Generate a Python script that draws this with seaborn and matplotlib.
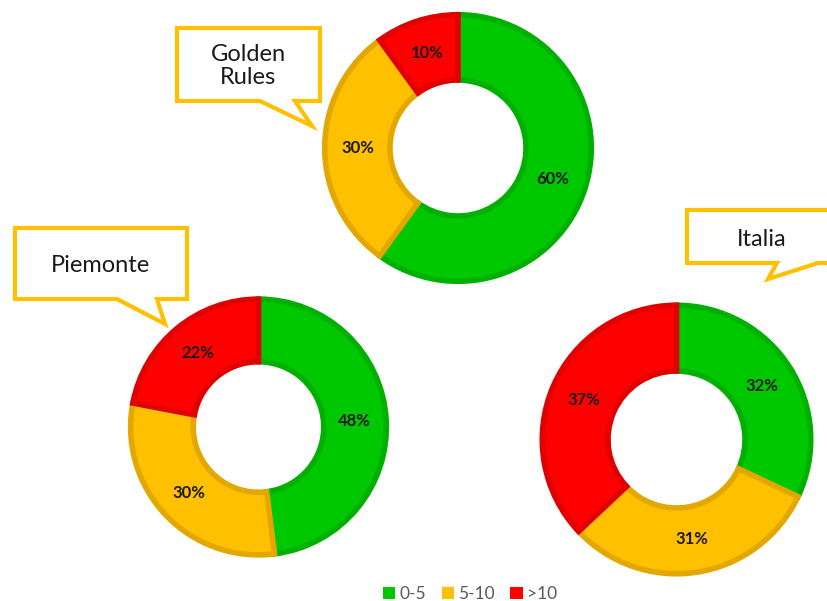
import matplotlib
matplotlib.use("Agg")
import matplotlib.pyplot as plt
import seaborn as sns
from matplotlib.patches import Polygon, Patch

categories = ["0-5", "5-10", ">10"]
regions = ["Golden Rules", "Piemonte", "Italia"]
golden_rules = [60, 30, 10]
piemonte = [48, 30, 22]
italia = [32, 31, 37]
callout_labels = ["Golden\nRules", "Piemonte", "Italia"]

sns.set_theme(style="white")
plt.rcParams["font.family"] = ["Lato", "DejaVu Sans"]

fill_colors = sns.color_palette(["#00c800", "#ffc000", "#ff0000"])
edge_colors = ["#00b000", "#e3a800", "#e00000"]

W, H = 828, 601
fig = plt.figure(figsize=(W / 100, H / 100), dpi=100)
fig.patch.set_facecolor("white")

# (center_x, center_y, radius) in pixels
donut_geom = {
    "Golden Rules": (458, 148, 136),
    "Piemonte": (258.5, 427, 130.5),
    "Italia": (676.5, 439.5, 137),
}
values = {"Golden Rules": golden_rules, "Piemonte": piemonte, "Italia": italia}

for reg in regions:
    cx, cy, r = donut_geom[reg]
    ax = fig.add_axes([(cx - r) / W, (H - cy - r) / H, 2 * r / W, 2 * r / H])
    wedges, texts = ax.pie(
        values[reg], startangle=90, counterclock=False, colors=fill_colors,
        radius=0.98, wedgeprops=dict(width=0.48, linewidth=4),
        labels=[f"{v}%" for v in values[reg]], labeldistance=0.75,
        textprops=dict(fontsize=12, fontweight="bold", color="#1a1a1a",
                       ha="center", va="center"))
    for w, ec in zip(wedges, edge_colors):
        w.set_edgecolor(ec)
        w.set_joinstyle("miter")
    ax.set_xlim(-1, 1)
    ax.set_ylim(-1, 1)
    ax.axis("off")

# overlay for callouts
ov = fig.add_axes([0, 0, 1, 1], zorder=10)
ov.set_xlim(0, W)
ov.set_ylim(H, 0)
ov.axis("off")
ov.patch.set_alpha(0)

bubbles = [
    ([(177, 28), (320, 28), (320, 101), (295, 101), (312, 126), (260, 101), (177, 101)], (248, 66)),
    ([(15, 228), (187, 228), (187, 299), (157, 299), (165, 324), (117, 299), (15, 299)], (101, 265)),
    ([(687, 210), (840, 210), (840, 263), (818, 263), (768, 279), (777, 263), (687, 263)], (762, 239)),
]
for (pts, tpos), lab in zip(bubbles, callout_labels):
    ov.add_patch(Polygon(pts, closed=True, facecolor="white", edgecolor="#ffc000",
                         linewidth=3, joinstyle="miter", clip_on=False))
    ov.text(tpos[0], tpos[1], lab, ha="center", va="center", fontsize=17,
            color="#1a1a1a", linespacing=1.1)

handles = [Patch(facecolor=c, edgecolor="none", label=l) for c, l in zip(fill_colors, categories)]
leg = fig.legend(handles=handles, loc="center", bbox_to_anchor=(470 / W, 1 - 594 / H),
                 ncol=3, frameon=False, fontsize=12.5, handlelength=0.7, handleheight=0.7,
                 handletextpad=0.25, columnspacing=0.9, labelcolor="#595959")

fig.savefig("out.png", dpi=100, facecolor="white")
